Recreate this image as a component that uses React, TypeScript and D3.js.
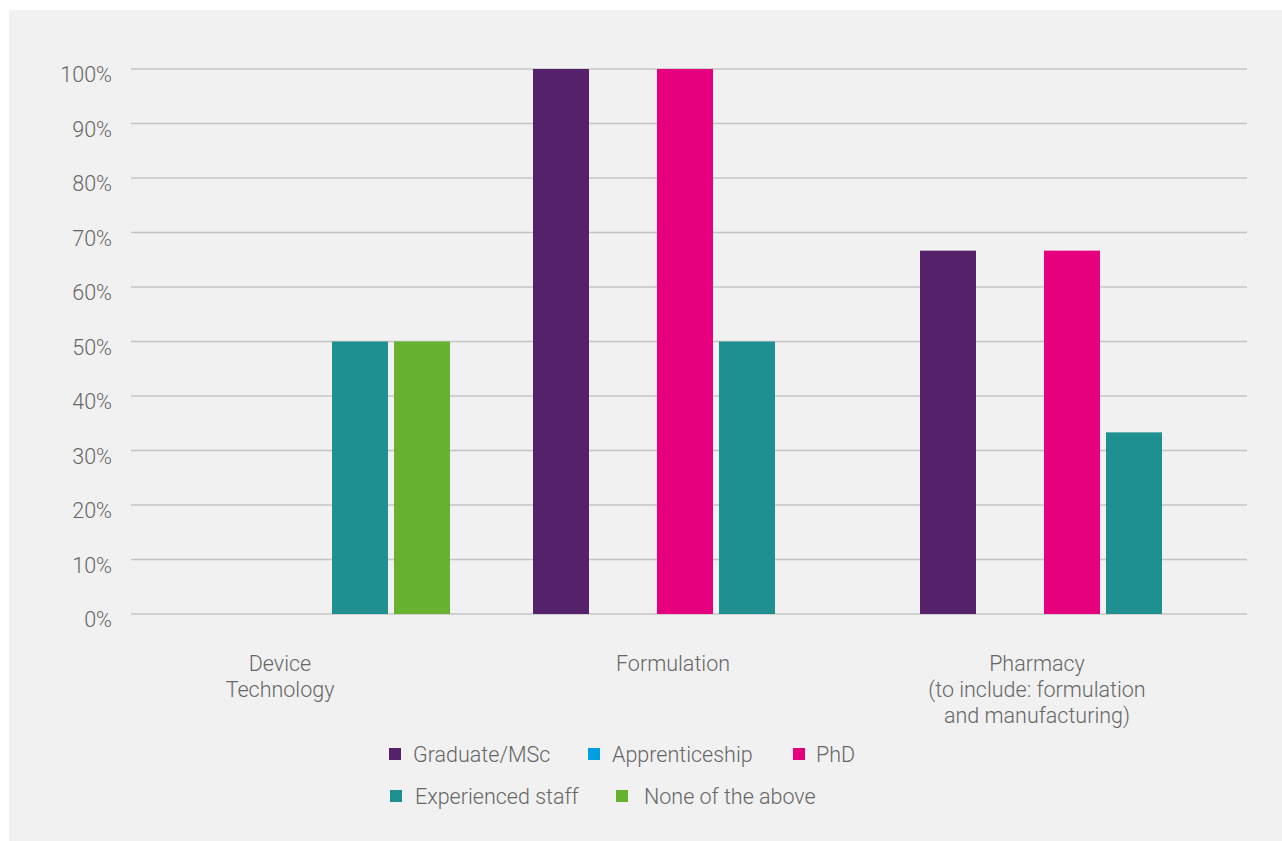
import React from "react";
import * as d3 from "d3";

const categories = ["Device Technology", "Formulation", "Pharmacy"];
const categoryLines = [
  ["Device", "Technology"],
  ["Formulation"],
  ["Pharmacy", "(to include: formulation", "and manufacturing)"],
];
const seriesNames = ["Graduate/MSc", "Apprenticeship", "PhD", "Experienced staff", "None of the above"];
const seriesColors = ["#55216B", "#009FE3", "#E6007E", "#1E9090", "#67B22F"];
const graduateValues = [0, 100, 66.67];
const apprenticeshipValues = [0, 0, 0];
const phdValues = [0, 100, 66.67];
const experiencedValues = [50, 50, 33.33];
const noneValues = [50, 0, 0];
const yTicks = [0, 10, 20, 30, 40, 50, 60, 70, 80, 90, 100];

const seriesValues = [graduateValues, apprenticeshipValues, phdValues, experiencedValues, noneValues];

const W = 1282;
const H = 841;
const FONT = "Roboto, 'Liberation Sans', sans-serif";
const TEXT = "#666666";
const FS = 21.5;

export default function App() {
  const y = d3.scaleLinear().domain([0, 100]).range([614, 69]);
  const x0 = d3.scaleBand<string>().domain(categories).range([146, 1224]).paddingInner(83 / 387).paddingOuter(0);
  const x1 = d3.scaleBand<string>().domain(seriesNames).range([0, x0.bandwidth()]).paddingInner(6 / 62).paddingOuter(0);
  const plotLeft = 131;
  const plotRight = 1247;

  const legendRows = [
    [0, 1, 2],
    [3, 4],
  ];
  const legendX = [
    [389, 588, 793],
    [390, 616],
  ];
  const legendTextDx = [
    [24, 24, 23],
    [25, 28],
  ];
  const legendY = [754, 796];

  return (
    <svg width={W} height={H} style={{ position: "absolute", left: 0, top: 0, display: "block" }}>
      <rect x={9} y={10} width={W - 9} height={H - 10} fill="#F1F1F1" />
      {yTicks.map((t) => (
        <g key={t}>
          <line x1={plotLeft} x2={plotRight} y1={y(t)} y2={y(t)} stroke="#C4C4C4" strokeWidth={1.5} />
          <text x={112} y={y(t) + 13} textAnchor="end" fontFamily={FONT} fontWeight={300} fontSize={FS} fill={TEXT}>
            {t}%
          </text>
        </g>
      ))}
      {categories.map((c, ci) => (
        <g key={c} transform={`translate(${x0(c)},0)`}>
          {seriesNames.map((s, si) => {
            const v = seriesValues[si][ci];
            if (!v) return null;
            return (
              <rect key={s} x={x1(s)} y={y(v)} width={x1.bandwidth()} height={y(0) - y(v)} fill={seriesColors[si]} />
            );
          })}
        </g>
      ))}
      {categories.map((c, ci) => (
        <text key={c} textAnchor="middle" fontFamily={FONT} fontWeight={300} fontSize={FS} fill={TEXT}>
          {categoryLines[ci].map((ln, li) => (
            <tspan key={li} x={(x0(c) as number) + x0.bandwidth() / 2 - (ci === 2 ? 35 : ci === 1 ? 12 : 18)} y={671 + li * 26}>
              {ln}
            </tspan>
          ))}
        </text>
      ))}
      {legendRows.map((row, ri) =>
        row.map((si, k) => (
          <g key={si} transform={`translate(${legendX[ri][k]},${legendY[ri]})`}>
            <rect x={0} y={-6} width={12} height={12} fill={seriesColors[si]} />
            <text x={legendTextDx[ri][k]} y={8} fontFamily={FONT} fontWeight={300} fontSize={FS} fill={TEXT}>
              {seriesNames[si]}
            </text>
          </g>
        ))
      )}
    </svg>
  );
}
